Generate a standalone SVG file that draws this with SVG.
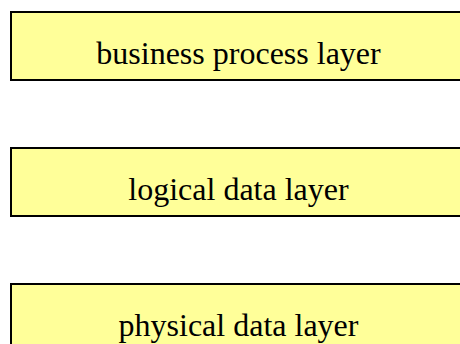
<svg xmlns="http://www.w3.org/2000/svg" width="460" height="344" viewBox="0 0 460 344">
<style>
.box{fill:#ffff99;stroke:#000;stroke-width:2}
.lbl{font-family:"Liberation Serif","Times New Roman",serif;font-size:32px;fill:#000;text-anchor:middle}
</style>
<rect width="460" height="344" fill="#fff"/>
<g id="business-process-layer">
<rect class="box" x="11" y="12" width="455" height="68"/>
<text class="lbl" x="238.5" y="63.5">business process layer</text>
</g>
<g id="logical-data-layer">
<rect class="box" x="11" y="148" width="455" height="68"/>
<text class="lbl" x="238.5" y="199.5">logical data layer</text>
</g>
<g id="physical-data-layer">
<rect class="box" x="11" y="284" width="455" height="68"/>
<text class="lbl" x="238.5" y="335.5">physical data layer</text>
</g>
<g id="connectors"></g>
</svg>
